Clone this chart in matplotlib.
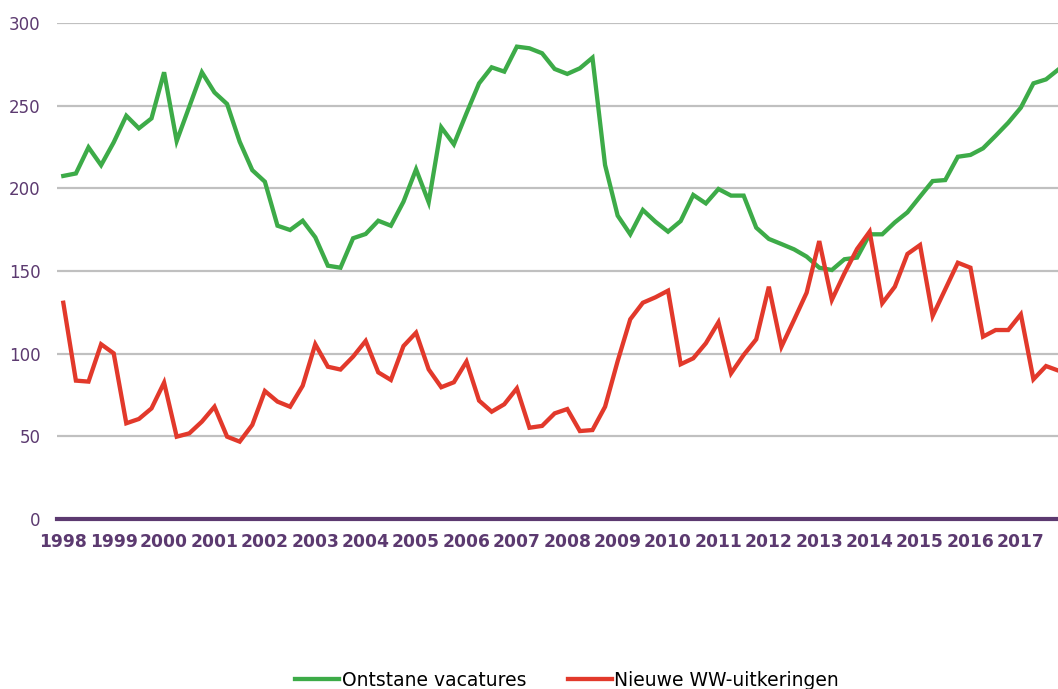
import numpy as np
import matplotlib
matplotlib.use("Agg")
import matplotlib.pyplot as plt

# quarterly data 1998 Q1 .. 2017 Q4 (x1000)
years = list(range(1998, 2018))

vacatures = [
    207.5, 209, 224.8, 214, 227.8, 243.9, 236.3, 242.3,
    270.2, 228.6, 249.4, 270.2, 258, 251, 228.2, 211,
    204, 177.4, 174.8, 180.4, 170.4, 153.2, 152, 169.8,
    172.4, 180.4, 177.4, 191.9, 211.5, 191.6, 236.9, 226.6,
    245.4, 263.5, 273.2, 270.6, 285.7, 284.7, 281.7, 272.2,
    269.2, 272.6, 279, 214.1, 183.5, 172.2, 186.9, 179.8,
    173.8, 180.2, 196, 190.9, 199.6, 195.6, 195.6, 176.2,
    169.4, 166.3, 163.1, 158.7, 152, 150.6, 157.1, 158.1,
    172.2, 172.2, 179.4, 185.5, 195, 204.4, 205, 219.1,
    220.2, 224.2, 231.8, 239.7, 248.8, 263.5, 265.9, 272,
]

ww_uitkeringen = [
    130.8, 83.7, 83.1, 105.7, 100.2, 57.9, 60.5, 66.9,
    82.5, 49.8, 51.8, 58.9, 67.9, 49.8, 46.8, 56.9,
    77.4, 71, 67.9, 80.6, 105.7, 92.1, 90.4, 98.2,
    107.7, 88.7, 84.1, 104.6, 112.7, 90.5, 79.7, 82.7,
    95.2, 71.6, 64.9, 69.4, 79, 55.2, 56.3, 63.9,
    66.5, 53.2, 53.8, 67.9, 95.5, 120.8, 130.8, 134.1,
    138.1, 93.6, 97.2, 106.3, 119, 88.1, 99.2, 108.7,
    140.5, 104.2, 120.4, 136.9, 168.1, 132.5, 148.6, 163.3,
    173.8, 130.5, 140.5, 160.3, 165.7, 122.8, 138.9, 155,
    152, 110.3, 114.3, 114.3, 123.8, 84.5, 92.5, 89.7,
]

green = "#3dab48"
red = "#e2392b"
purple = "#5c3a70"

fig = plt.figure(figsize=(10.58, 6.89), dpi=100)
ax = fig.add_axes([57 / 1058, 1 - 519 / 689, 1 - 57 / 1058, 496 / 689])

x = np.arange(len(vacatures))
ax.plot(x, vacatures, color=green, lw=3.1, label="Ontstane vacatures", solid_joinstyle="miter")
ax.plot(x, ww_uitkeringen, color=red, lw=3.1, label="Nieuwe WW-uitkeringen", solid_joinstyle="miter")

ax.set_ylim(0, 300)
ax.set_xlim(-0.5, 78.95)
ax.set_yticks([0, 50, 100, 150, 200, 250, 300])
ax.grid(axis="y", color="#c0c0c0", lw=1.6)
ax.set_axisbelow(True)
ax.axhline(0, color=purple, lw=3.0, zorder=3, clip_on=False)

for s in ax.spines.values():
    s.set_visible(False)

ax.set_xticks(np.arange(0, 80, 4))
ax.set_xticklabels([str(y) for y in years], fontweight="bold", fontsize=12.3)
ax.tick_params(axis="x", length=0, pad=10, colors=purple)
ax.tick_params(axis="y", length=0, pad=12, colors=purple, labelsize=12)

fig.legend(loc="center", bbox_to_anchor=(567 / 1058, 1 - 680 / 689), ncol=2, frameon=False,
           fontsize=13.5, handlelength=2.35, handletextpad=0.15, columnspacing=2.2)

fig.savefig("out.png", dpi=100)
